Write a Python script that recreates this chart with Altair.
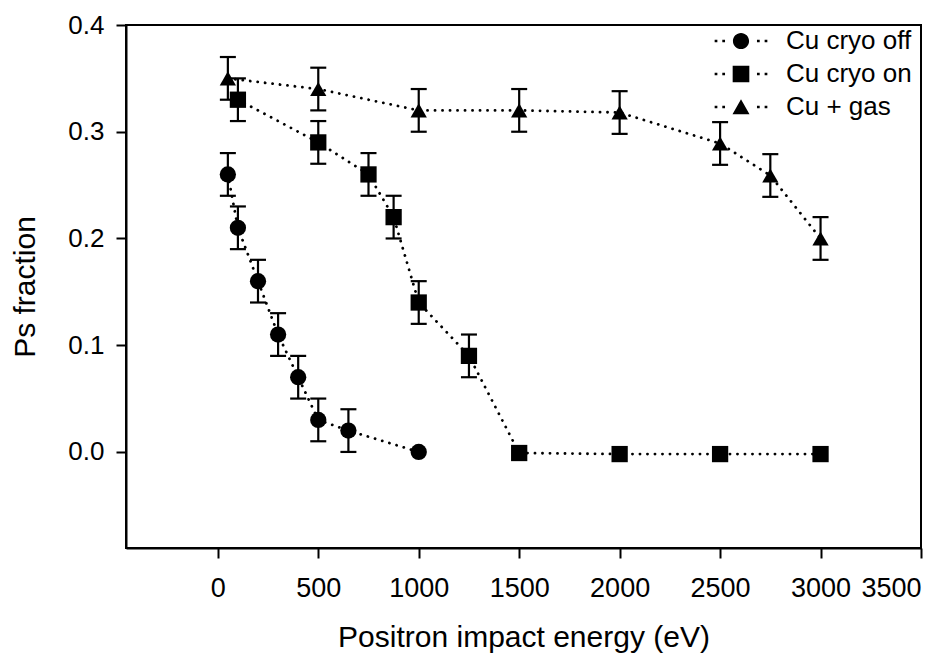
import altair as alt
import pandas as pd

series_names = ["Cu cryo off", "Cu cryo on", "Cu + gas"]

off_x = [50, 100, 200, 300, 400, 500, 650, 1000]
off_y = [0.26, 0.21, 0.16, 0.11, 0.07, 0.03, 0.02, 0.0]
off_err = [0.02, 0.02, 0.02, 0.02, 0.02, 0.02, 0.02, 0.0]

on_x = [100, 500, 750, 875, 1000, 1250, 1500, 2000, 2500, 3000]
on_y = [0.33, 0.29, 0.26, 0.22, 0.14, 0.09, -0.001, -0.002, -0.002, -0.002]
on_err = [0.02, 0.02, 0.02, 0.02, 0.02, 0.02, 0.0, 0.0, 0.0, 0.0]

gas_x = [50, 500, 1000, 1500, 2000, 2500, 2750, 3000]
gas_y = [0.35, 0.34, 0.32, 0.32, 0.318, 0.289, 0.259, 0.20]
gas_err = [0.02, 0.02, 0.02, 0.02, 0.02, 0.02, 0.02, 0.02]

x_ticks = [0, 500, 1000, 1500, 2000, 2500, 3000, 3500]
y_ticks = [0.0, 0.1, 0.2, 0.3, 0.4]

rows = []
for name, xs, ys, es in zip(series_names, [off_x, on_x, gas_x], [off_y, on_y, gas_y], [off_err, on_err, gas_err]):
    for x, y, e in zip(xs, ys, es):
        rows.append({"series": name, "energy": x, "frac": y, "err": e,
                     "lo": y - e, "hi": y + e})
df = pd.DataFrame(rows)

FONT = "Liberation Sans"

xscale = alt.Scale(domain=[-457, 3500], nice=False, zero=False)
yscale = alt.Scale(domain=[-0.09, 0.4], nice=False, zero=False)

xax = alt.Axis(values=x_ticks, format="d", title="Positron impact energy (eV)",
               titleY=89, titleBaseline="middle", labelPadding=17, labelFontSize=27)
yax = alt.Axis(values=y_ticks, format=".1f", title="Ps fraction",
               titleX=-101, titleBaseline="middle", labelPadding=12)

base = alt.Chart(df)

lines = base.mark_line(color="black", strokeWidth=2.8, strokeDash=[0.1, 7.4],
                       strokeCap="round").encode(
    x=alt.X("energy:Q", scale=xscale, axis=xax),
    y=alt.Y("frac:Q", scale=yscale, axis=yax),
    detail="series:N",
    order="energy:Q",
)

eb = base.transform_filter("datum.err > 0")

rules = eb.mark_rule(color="black", strokeWidth=2.2).encode(
    x="energy:Q", y="lo:Q", y2="hi:Q")
cap_lo = eb.mark_tick(color="black", orient="horizontal", size=16, thickness=2.2,
                      opacity=1).encode(x="energy:Q", y="lo:Q")
cap_hi = eb.mark_tick(color="black", orient="horizontal", size=16, thickness=2.2,
                      opacity=1).encode(x="energy:Q", y="hi:Q")

points = base.mark_point(filled=True, color="black", opacity=1, size=265).encode(
    x="energy:Q", y="frac:Q",
    shape=alt.Shape("series:N",
                    scale=alt.Scale(domain=series_names,
                                    range=["circle", "square", "triangle-up"]),
                    legend=None),
)

dots = ("M -3.1,-0.16 h 0.32 v 0.32 h -0.32 Z M -2.2,-0.16 h 0.32 v 0.32 h -0.32 Z "
        "M 1.88,-0.16 h 0.32 v 0.32 h -0.32 Z M 2.78,-0.16 h 0.32 v 0.32 h -0.32 Z ")
circle_path = dots + "M -0.95,0 A 0.95,0.95 0 1,0 0.95,0 A 0.95,0.95 0 1,0 -0.95,0 Z"
square_path = dots + "M -0.98,-0.98 H 0.98 V 0.98 H -0.98 Z"
tri_path = dots + "M 0,-0.9 L 1,0.85 L -1,0.85 Z"

legend_layer = base.mark_point(filled=True, color="black", opacity=0, size=289).encode(
    x="energy:Q", y="frac:Q",
    shape=alt.Shape("series:N",
                    scale=alt.Scale(domain=series_names,
                                    range=[circle_path, square_path, tri_path]),
                    legend=alt.Legend(orient="none", legendX=602, legendY=3,
                                      title=None, symbolSize=289,
                                      symbolFillColor="black", symbolStrokeWidth=0,
                                      labelFont=FONT, labelFontSize=26,
                                      labelColor="black", labelOffset=32,
                                      rowPadding=7, padding=0)),
)

chart = alt.layer(lines, rules, cap_lo, cap_hi, points, legend_layer).resolve_scale(
    shape="independent"
).properties(
    width=795, height=523,
    padding={"left": 2, "top": 4, "right": 5, "bottom": 5},
).configure_view(
    stroke="black", strokeWidth=2
).configure_axis(
    grid=False, domainColor="black", domainWidth=2, tickColor="black",
    tickWidth=2, tickSize=10, labelFont=FONT, labelFontSize=26,
    labelColor="black", titleFont=FONT, titleFontSize=30,
    titleFontWeight="normal", titleColor="black",
)

chart.save("out.html", embed_options={"renderer": "svg", "actions": False})
